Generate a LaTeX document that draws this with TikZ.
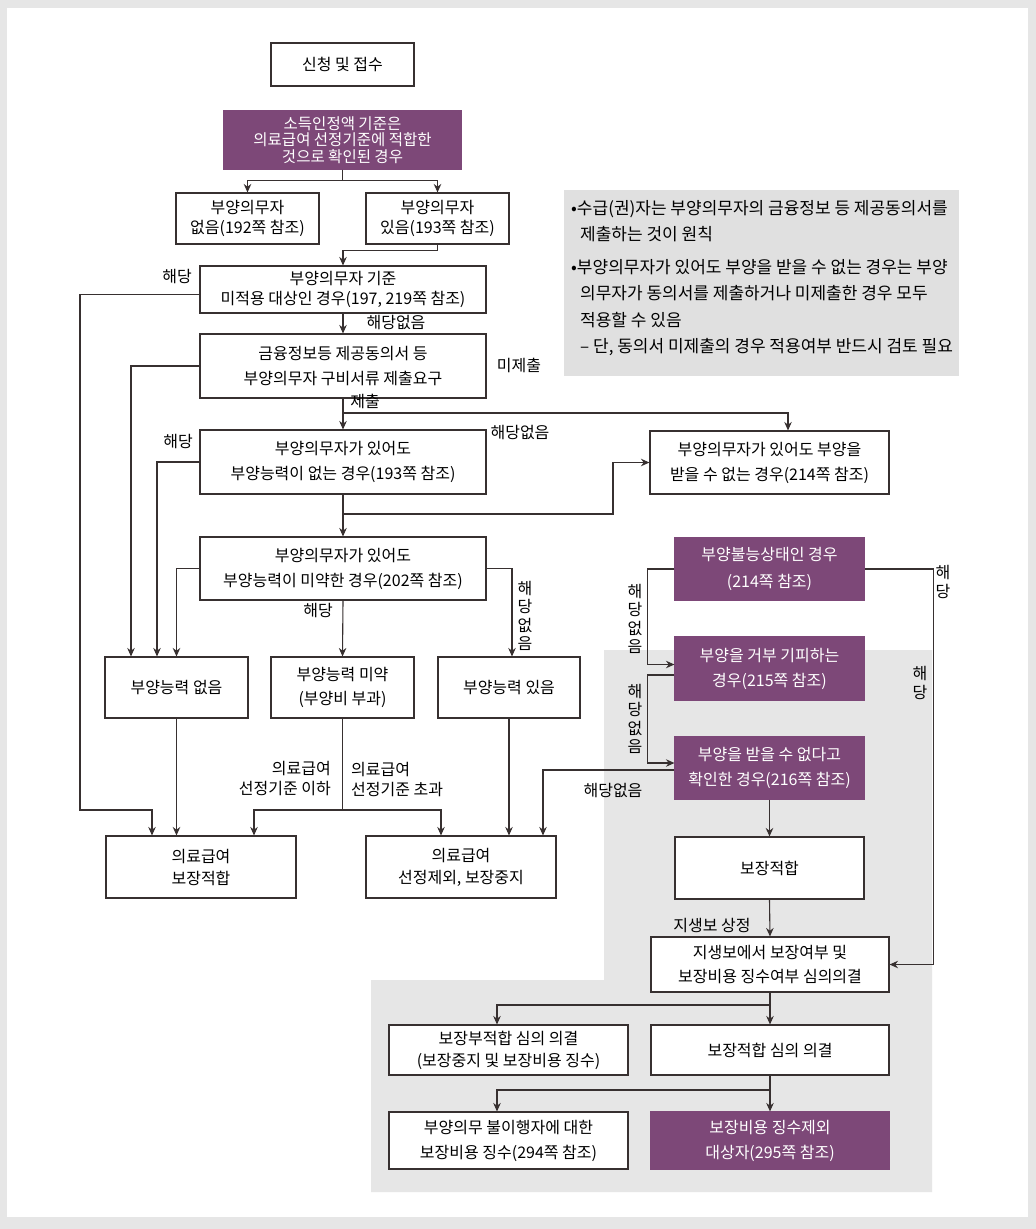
\documentclass[tikz,border=0pt]{standalone}
\usepackage{fontspec}
\setmainfont{Noto Sans CJK KR}
\usetikzlibrary{arrows.meta}
\definecolor{linec}{RGB}{55,48,48}
\definecolor{purp}{RGB}{125,72,120}
\definecolor{bggray}{RGB}{230,230,230}
\definecolor{notegray}{RGB}{224,224,224}
\tikzset{
  box/.style={draw=linec,line width=1.1pt,fill=white,align=center,inner sep=0pt,font=\fontsize{16}{25}\selectfont},
  pbox/.style={box,draw=purp,fill=purp,text=white},
  sz/.style 2 args={minimum width=#1pt,minimum height=#2pt},
  ln/.style={draw=linec,line width=1.1pt},
  arr/.style={ln,-{Stealth[length=8.5pt,width=7.5pt]}},
  lab/.style={inner sep=0pt,font=\fontsize{16}{18}\selectfont},
  vlab/.style={inner sep=0pt,align=center,font=\fontsize{16}{18.5}\selectfont}
}
\begin{document}
\begin{tikzpicture}[x=1pt,y=-1pt]
\fill[bggray] (0,0) rectangle (1036,1229);
\fill[white] (7,8) rectangle (1028,1217);
\useasboundingbox (0,0) rectangle (1036,1229);
\fill[bggray] (604,650) -- (932,650) -- (932,1192) -- (371,1192) -- (371,980) -- (604,980) -- cycle;
\fill[notegray] (564,190) rectangle (959,376);
\node[anchor=north west,align=left,inner sep=0pt,font=\fontsize{17}{26.5}\selectfont] (note) at (571,200)
  {•수급(권)자는 부양의무자의 금융정보 등 제공동의서를\\
   \hspace*{9pt}제출하는 것이 원칙\\[6pt]
   •부양의무자가 있어도 부양을 받을 수 없는 경우는 부양\\
   \hspace*{9pt}의무자가 동의서를 제출하거나 미제출한 경우 모두\\
   \hspace*{9pt}적용할 수 있음\\
   \hspace*{9pt}– 단, 동의서 미제출의 경우 적용여부 반드시 검토 필요};

\node[box,sz={143}{43}] (apply) at (342.5,64.5) {신청 및 접수};
\node[pbox,sz={237}{58},font=\fontsize{15.5}{16.5}\selectfont] (income) at (342.5,140) {소득인정액 기준은\\의료급여 선정기준에 적합한\\것으로 확인된 경우};
\node[box,sz={143}{51},font=\fontsize{16}{20}\selectfont] (none) at (247.5,218.5) {부양의무자\\없음(192쪽 참조)};
\node[box,sz={143}{51},font=\fontsize{16}{20}\selectfont] (exist) at (437.5,218.5) {부양의무자\\있음(193쪽 참조)};
\node[box,sz={286}{47},font=\fontsize{16}{20}\selectfont] (exempt) at (343,289.5) {부양의무자 기준\\미적용 대상인 경우(197, 219쪽 참조)};
\node[box,sz={286}{64}] (docs) at (343,366) {금융정보등 제공동의서 등\\부양의무자 구비서류 제출요구};
\node[box,sz={286}{64}] (noabil) at (343,462) {부양의무자가 있어도\\부양능력이 없는 경우(193쪽 참조)};
\node[box,sz={239}{63}] (cannot) at (769.5,462.5) {부양의무자가 있어도 부양을\\받을 수 없는 경우(214쪽 참조)};
\node[box,sz={286}{63}] (weak) at (343,568.5) {부양의무자가 있어도\\부양능력이 미약한 경우(202쪽 참조)};
\node[box,sz={143}{61}] (abl0) at (176.5,687.5) {부양능력 없음};
\node[box,sz={143}{61},font=\fontsize{16}{24}\selectfont] (abl1) at (342.5,687.5) {부양능력 미약\\(부양비 부과)};
\node[box,sz={142}{61}] (abl2) at (509,687.5) {부양능력 있음};
\node[box,sz={190}{62},font=\fontsize{16}{22}\selectfont] (fit) at (201,867) {의료급여\\보장적합};
\node[box,sz={190}{62},font=\fontsize{16}{22}\selectfont] (out) at (461,867) {의료급여\\선정제외, 보장중지};
\node[pbox,sz={189}{62},font=\fontsize{16}{27}\selectfont] (unable) at (769.5,569) {부양불능상태인 경우\\(214쪽 참조)};
\node[pbox,sz={189}{63}] (refuse) at (769.5,668.5) {부양을 거부 기피하는\\경우(215쪽 참조)};
\node[pbox,sz={189}{62}] (confirm) at (769.5,768) {부양을 받을 수 없다고\\확인한 경우(216쪽 참조)};
\node[box,sz={189}{62}] (ok) at (769.5,868) {보장적합};
\node[box,sz={238}{55},font=\fontsize{16}{24}\selectfont] (review) at (770,964.5) {지생보에서 보장여부 및\\보장비용 징수여부 심의의결};
\node[box,sz={239}{50},font=\fontsize{16}{22}\selectfont] (unfit) at (508.5,1050) {보장부적합 심의 의결\\(보장중지 및 보장비용 징수)};
\node[box,sz={238}{50}] (fitres) at (770,1050) {보장적합 심의 의결};
\node[box,sz={239}{57}] (collect) at (508.5,1140.5) {부양의무 불이행자에 대한\\보장비용 징수(294쪽 참조)};
\node[pbox,sz={238}{57}] (exclude) at (770,1140.5) {보장비용 징수제외\\대상자(295쪽 참조)};

\node[lab] (l1) at (177,277) {해당};
\node[lab] (l2) at (396,323) {해당없음};
\node[lab] (l3) at (519,365) {미제출};
\node[lab] (l4) at (365,401) {제출};
\node[lab] (l5) at (520,433) {해당없음};
\node[lab] (l6) at (178,442) {해당};
\node[lab] (l7) at (318,610) {해당};
\node[lab,anchor=east,align=right,font=\fontsize{16}{20}\selectfont] (l8) at (331,779) {의료급여\\선정기준 이하};
\node[lab,anchor=west,align=left,font=\fontsize{16}{20}\selectfont] (l9) at (351,779) {의료급여\\선정기준 초과};
\node[lab] (l10) at (613,790) {해당없음};
\node[lab] (l11) at (712,925) {지생보 상정};
\foreach \n/\x/\y/\t in {v1/525/616/{해\\당\\없\\음}, v2/635/619/{해\\당\\없\\음},
    v3/635/719/{해\\당\\없\\음}, v4/943/582/{해\\당}, v5/920/683/{해\\당}}
  \node[vlab] (\n) at (\x,\y) {\t};

\coordinate (c1) at (80,810);
\coordinate (s2) at (343,413);
\coordinate (s3) at (343,514);
\coordinate (s4) at (342.5,810);
\coordinate (s5) at (770,1005);
\coordinate (s6) at (770,1090);
\draw[arr] (income.south) -- ++(0,11) -| (none.north);
\draw[arr] (income.south) -- ++(0,11) -| (exist.north);
\draw[arr] (exist.south) -- ++(0,6) -| (exempt.north);
\draw[arr] ([yshift=-5pt]exempt.west) -| (c1) -| ([xshift=-49pt]fit.north);
\draw[arr] (exempt.south) -- (docs.north);
\draw[arr] (docs.west) -| ([xshift=-45.5pt]abl0.north);
\draw[arr] (docs.south) -- (noabil.north);
\draw[arr] (s2) -| ([xshift=18.5pt]cannot.north);
\draw[arr] (noabil.west) -| ([xshift=-19.5pt]abl0.north);
\draw[arr] (noabil.south) -- (weak.north);
\draw[arr] (s3) -- ++(270,0) |- (cannot.west);
\draw[arr] (weak.west) -| (abl0.north);
\draw[arr] (weak.south) -- (abl1.north);
\draw[arr] (weak.east) -| ([xshift=3pt]abl2.north);
\draw[arr] (abl0.south) -- (abl0.south |- fit.north);
\draw[ln] (abl1.south) -- (s4);
\draw[arr] (s4) -| ([xshift=53pt]fit.north);
\draw[arr] (s4) -| ([xshift=-20pt]out.north);
\draw[arr] (abl2.south) -- (abl2.south |- out.north);
\draw[arr] ([yshift=-2pt]confirm.west) -| ([xshift=82pt]out.north);
\draw[arr] (unable.west) -- ++(-27,0) |- ([yshift=4pt]refuse.west);
\draw[arr] ([yshift=-6.5pt]refuse.west) -- ++(-27,0) |- ([yshift=5pt]confirm.west);
\draw[arr] (unable.east) -- ++(69,0) |- (review.east);
\draw[arr] (confirm.south) -- (ok.north);
\draw[arr] (ok.south) -- (review.north);
\draw[ln] (review.south) -- (s5);
\draw[arr] (s5) -| ([xshift=-11.5pt]unfit.north);
\draw[arr] (s5) -- (fitres.north);
\draw[ln] (fitres.south) -- (s6);
\draw[arr] (s6) -| ([xshift=-11.5pt]collect.north);
\draw[arr] (s6) -- (exclude.north);
\end{tikzpicture}
\end{document}
